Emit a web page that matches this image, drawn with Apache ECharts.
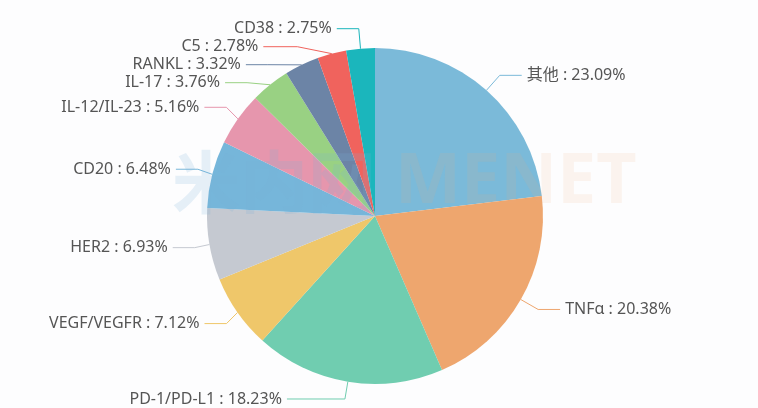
<!DOCTYPE html>
<html><head><meta charset="utf-8">
<script src="https://cdn.jsdelivr.net/npm/echarts@6/dist/echarts.min.js"></script>
<style>html,body{margin:0;padding:0;background:#fff}#c{width:758px;height:408px}</style>
</head><body><div id="c"></div>
<script>
const categories = ['其他','TNFα','PD-1/PD-L1','VEGF/VEGFR','HER2','CD20','IL-12/IL-23','IL-17','RANKL','C5','CD38'];
const values = [23.09,20.38,18.23,7.12,6.93,6.48,5.16,3.76,3.32,2.78,2.75];
const colors = ['#7bbad9','#eea66e','#70cdb0','#efc76a','#c5c9d1','#76b6da','#e696ad','#99d183','#6c84a6','#f0635d','#1bb6bc'];
const lineLen = [20,20,18,20,20,20,20,20,20,20,20];
const lineLen2 = [22,22,58,22,22,22,22,22,22,34,22];

const chart = echarts.init(document.getElementById('c'), null, {renderer:'canvas'});
chart.setOption({
  backgroundColor:'#fdfdfe',
  animation:false,
  graphic:[
    {type:'text', left:172, top:148, z:10, silent:true,
     style:{text:'米内网', fontSize:68, fontWeight:'bold', fontFamily:'Noto Sans CJK SC', fill:'rgba(120,175,215,0.18)'}},
    {type:'text', left:395, top:148, z:10, silent:true,
     style:{text:'MENET', fontSize:70, fontWeight:'bold', fontFamily:'Noto Sans', fill:'rgba(240,170,120,0.12)'}}
  ],
  series:[{
    type:'pie',
    center:[375,216],
    radius:[0,168],
    startAngle:90,
    clockwise:true,
    avoidLabelOverlap:true,
    data: categories.map((n,i)=>({name:n, value:values[i], itemStyle:{color:colors[i]},
      labelLine:{length:lineLen[i], length2:lineLen2[i]}})),
    label:{
      formatter: p => p.name + ' : ' + values[p.dataIndex].toFixed(2) + '%',
      color:'#555', fontSize:16, fontFamily:'Noto Sans, Noto Sans CJK SC, sans-serif'
    },
    labelLine:{length:20, length2:22, lineStyle:{width:1}},
    itemStyle:{borderWidth:0}
  }]
});
</script></body></html>
